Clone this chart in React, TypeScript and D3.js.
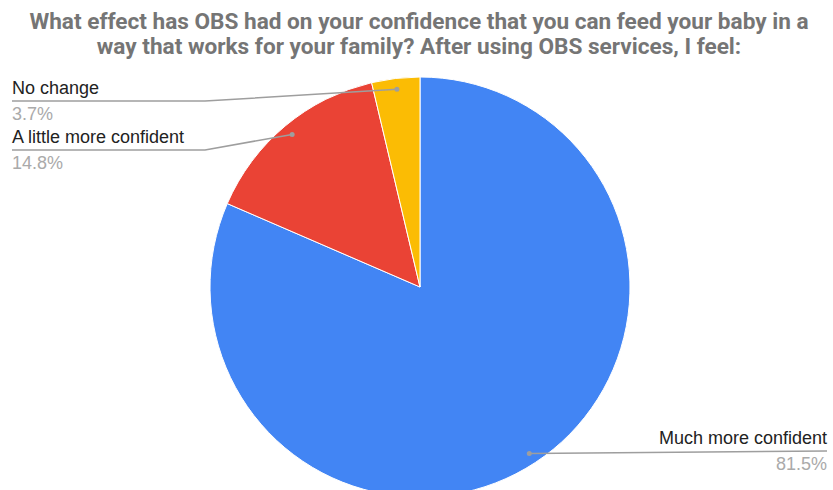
import React from "react";
import * as d3 from "d3";

const categories = ["Much more confident", "A little more confident", "No change"];
const values = [81.5, 14.8, 3.7];
const colors = ["#4285F4", "#EA4335", "#FBBC04"];
const titleLines = [
  "What effect has OBS had on your confidence that you can feed your baby in a",
  "way that works for your family? After using OBS services, I feel:",
];

const W = 833;
const H = 490;
const cx = 420;
const cy = 287;
const R = 210;

export default function App() {
  const pie = d3.pie<number>().sort(null).value((d) => d);
  const arcs = pie(values);
  const arcGen = d3.arc<d3.PieArcDatum<number>>().innerRadius(0).outerRadius(R);
  const titleFont = "Roboto, Arial, sans-serif";
  const font = "'Liberation Sans', Arial, sans-serif";

  const layouts = [
    { x: 827, lineY: 451, anchor: "end", elbowX: null as number | null, lineEndX: 827 },
    { x: 12, lineY: 150, anchor: "start", elbowX: 205, lineEndX: 12 },
    { x: 12, lineY: 101, anchor: "start", elbowX: 205, lineEndX: 12 },
  ];

  return (
    <svg width={W} height={H} style={{ position: "absolute", left: 0, top: 0, background: "#fff" }}>
      <g fontFamily={titleFont} fontWeight="bold" fill="#757575" fontSize={22.6} textAnchor="middle">
        {titleLines.map((t, i) => (
          <text key={i} x={419} y={29 + i * 25}>
            {t}
          </text>
        ))}
      </g>
      <g transform={`translate(${cx},${cy})`}>
        {arcs.map((a, i) => (
          <path key={i} d={arcGen(a) as string} fill={colors[i]} stroke="#fff" strokeWidth={1} />
        ))}
      </g>
      {arcs.map((a, i) => {
        const mid = (a.startAngle + a.endAngle) / 2;
        const r2 = R * 0.948;
        const dx = cx + r2 * Math.sin(mid);
        const dy = cy - r2 * Math.cos(mid);
        const L = layouts[i];
        const pts =
          L.elbowX === null
            ? `${dx},${dy} ${L.lineEndX},${L.lineY}`
            : `${dx},${dy} ${L.elbowX},${L.lineY} ${L.lineEndX},${L.lineY}`;
        return (
          <g key={i}>
            <polyline points={pts} fill="none" stroke="#9e9e9e" strokeWidth={1.5} />
            <circle cx={dx} cy={dy} r={2.5} fill="#9e9e9e" />
            <text x={L.x} y={L.lineY - 7} textAnchor={L.anchor} fontFamily={font} fontSize={18} fill="#222">
              {categories[i]}
            </text>
            <text x={L.x} y={L.lineY + 19} textAnchor={L.anchor} fontFamily={font} fontSize={18} fill="#aaaaaa">
              {d3.format(".1f")(values[i]) + "%"}
            </text>
          </g>
        );
      })}
    </svg>
  );
}
